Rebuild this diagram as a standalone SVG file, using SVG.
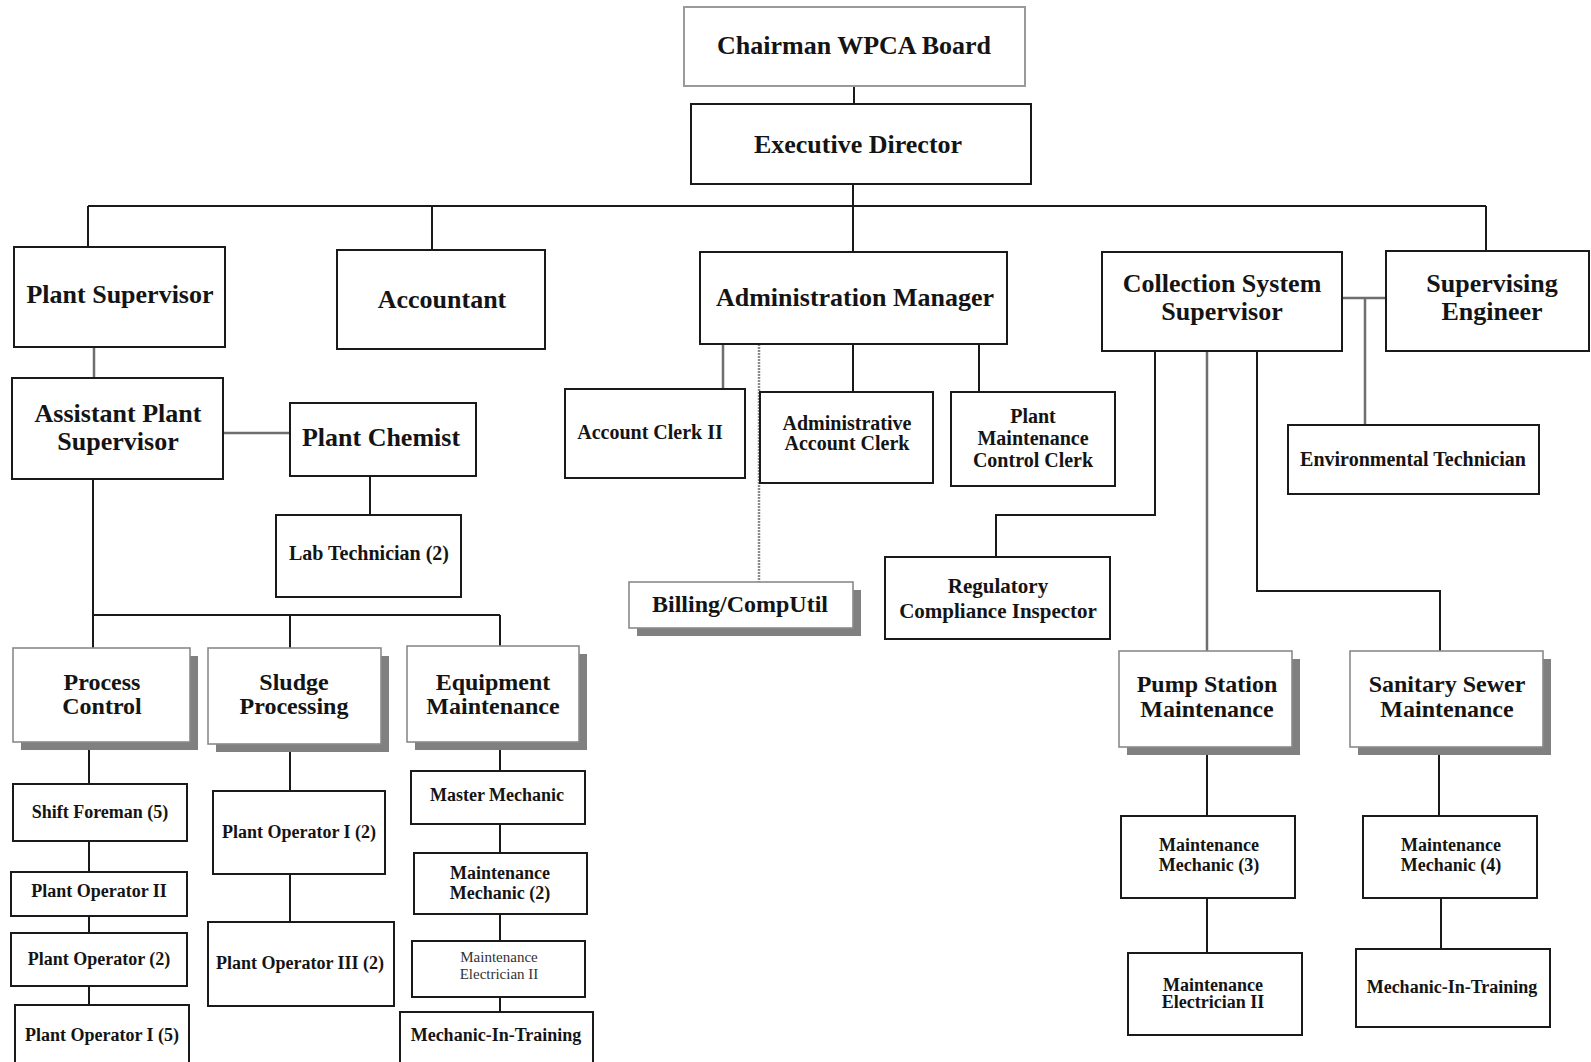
<svg xmlns="http://www.w3.org/2000/svg" width="1591" height="1062" viewBox="0 0 1591 1062">
<style>
.box{fill:#fff;stroke:#1a1a1a;stroke-width:2}
.sbox{fill:#fff;stroke:#8a8a8a;stroke-width:1.6}
.gbox{fill:#fff;stroke:#9a9a9a;stroke-width:2}
.sh{fill:#808080}
text{font-family:"Liberation Serif","Times New Roman",serif;font-weight:bold;fill:#141414;text-anchor:middle}
.t26{font-size:26px}
.t24{font-size:24px}
.t21{font-size:21px}
.t20{font-size:20px}
.t18{font-size:18px}
.t15{font-size:15px;font-weight:normal;fill:#333}
.ln{fill:none;stroke:#1a1a1a;stroke-width:2}
.lg{fill:none;stroke:#6e6e6e;stroke-width:2.5}
.ld{fill:none;stroke:#8a8a8a;stroke-width:2.5;stroke-dasharray:2 1}
</style>
<rect width="1591" height="1062" fill="#fff"/>
<g id="connectors">
<path class="ln" d="M854 86V104"/>
<path class="ln" d="M853 184V252"/>
<path class="ln" d="M88 206H1486"/>
<path class="ln" d="M88 206V247"/>
<path class="ln" d="M432 206V250"/>
<path class="ln" d="M1486 206V251"/>
<path class="lg" d="M94 347V378"/>
<path class="lg" d="M223 433H290" stroke-width="4"/>
<path class="ln" d="M370 476V515"/>
<path class="ln" d="M93 479V648"/>
<path class="ln" d="M93 615H500"/>
<path class="ln" d="M290 615V648"/>
<path class="ln" d="M500 615V646"/>
<path class="ln" d="M89 742V784M89 841V872M89 916V933M89 986V1005"/>
<path class="ln" d="M290 744V791M290 874V922"/>
<path class="ln" d="M500 742V771M500 824V853M500 914V941M500 997V1012"/>
<path class="lg" d="M723 344V389"/>
<path class="ln" d="M853 344V392"/>
<path class="ln" d="M979 344V392"/>
<path class="ld" d="M759 344V582"/>
<path class="lg" d="M1342 298H1386"/>
<path class="lg" d="M1365 298V425"/>
<path class="ln" d="M1155 351V515H996V557"/>
<path class="lg" d="M1207 351V651"/>
<path class="ln" d="M1257 351V591H1440V651"/>
<path class="ln" d="M1207 747V816M1207 898V953"/>
<path class="ln" d="M1439 747V816M1441 898V949"/>
</g>
<g id="chairman"><rect class="gbox" x="684" y="7" width="341" height="79"/><text class="t26" x="854" y="54">Chairman WPCA Board</text></g>
<g id="exec"><rect class="box" x="691" y="104" width="340" height="80"/><text class="t26" x="858" y="153">Executive Director</text></g>
<g id="plant-supervisor"><rect class="box" x="14" y="247" width="211" height="100"/><text class="t26" x="120" y="303">Plant Supervisor</text></g>
<g id="accountant"><rect class="box" x="337" y="250" width="208" height="99"/><text class="t26" x="442" y="308">Accountant</text></g>
<g id="admin-manager"><rect class="box" x="700" y="252" width="307" height="92"/><text class="t26" x="855" y="306">Administration Manager</text></g>
<g id="css"><rect class="box" x="1102" y="252" width="240" height="99"/><text class="t26" x="1222" y="292">Collection System</text><text class="t26" x="1222" y="320">Supervisor</text></g>
<g id="se"><rect class="box" x="1386" y="251" width="203" height="100"/><text class="t26" x="1492" y="292">Supervising</text><text class="t26" x="1492" y="320">Engineer</text></g>
<g id="aps"><rect class="box" x="12" y="378" width="211" height="101"/><text class="t26" x="118" y="422">Assistant Plant</text><text class="t26" x="118" y="450">Supervisor</text></g>
<g id="plant-chemist"><rect class="box" x="290" y="403" width="186" height="73"/><text class="t26" x="381" y="446">Plant Chemist</text></g>
<g id="lab-tech"><rect class="box" x="276" y="515" width="185" height="82"/><text class="t20" x="369" y="560">Lab Technician (2)</text></g>
<g id="account-clerk"><rect class="box" x="565" y="389" width="180" height="89"/><text class="t20" x="650" y="439">Account Clerk II</text></g>
<g id="admin-account-clerk"><rect class="box" x="760" y="392" width="173" height="91"/><text class="t20" x="847" y="430">Administrative</text><text class="t20" x="847" y="450">Account Clerk</text></g>
<g id="pmcc"><rect class="box" x="951" y="392" width="164" height="94"/><text class="t20" x="1033" y="423">Plant</text><text class="t20" x="1033" y="445">Maintenance</text><text class="t20" x="1033" y="467">Control Clerk</text></g>
<g id="billing"><rect class="sh" x="637" y="590" width="224" height="46"/><rect class="sbox" x="629" y="582" width="224" height="46"/><text class="t24" x="740" y="612">Billing/CompUtil</text></g>
<g id="rci"><rect class="box" x="885" y="557" width="225" height="82"/><text class="t21" x="998" y="593">Regulatory</text><text class="t21" x="998" y="618">Compliance Inspector</text></g>
<g id="env-tech"><rect class="box" x="1288" y="425" width="251" height="69"/><text class="t20" x="1413" y="466">Environmental Technician</text></g>
<g id="process-control"><rect class="sh" x="21" y="656" width="177" height="94"/><rect class="sbox" x="13" y="648" width="177" height="94"/><text class="t24" x="102" y="690">Process</text><text class="t24" x="102" y="714">Control</text></g>
<g id="sludge"><rect class="sh" x="216" y="656" width="173" height="96"/><rect class="sbox" x="208" y="648" width="173" height="96"/><text class="t24" x="294" y="690">Sludge</text><text class="t24" x="294" y="714">Processing</text></g>
<g id="equipment"><rect class="sh" x="415" y="654" width="172" height="96"/><rect class="sbox" x="407" y="646" width="172" height="96"/><text class="t24" x="493" y="690">Equipment</text><text class="t24" x="493" y="714">Maintenance</text></g>
<g id="shift-foreman"><rect class="box" x="13" y="784" width="174" height="57"/><text class="t18" x="100" y="818">Shift Foreman (5)</text></g>
<g id="po2"><rect class="box" x="11" y="872" width="176" height="44"/><text class="t18" x="99" y="897">Plant Operator II</text></g>
<g id="po-2"><rect class="box" x="11" y="933" width="176" height="53"/><text class="t18" x="99" y="965">Plant Operator (2)</text></g>
<g id="po1-5"><rect class="box" x="15" y="1005" width="174" height="65"/><text class="t18" x="102" y="1041">Plant Operator I (5)</text></g>
<g id="po1-2"><rect class="box" x="213" y="791" width="172" height="83"/><text class="t18" x="299" y="838">Plant Operator I (2)</text></g>
<g id="po3-2"><rect class="box" x="208" y="922" width="186" height="84"/><text class="t18" x="300" y="969">Plant Operator III (2)</text></g>
<g id="master-mechanic"><rect class="box" x="411" y="771" width="174" height="53"/><text class="t18" x="497" y="801">Master Mechanic</text></g>
<g id="mm2"><rect class="box" x="414" y="853" width="173" height="61"/><text class="t18" x="500" y="879">Maintenance</text><text class="t18" x="500" y="899">Mechanic (2)</text></g>
<g id="me2-equip"><rect class="box" x="412" y="941" width="173" height="56"/><text class="t15" x="499" y="962">Maintenance</text><text class="t15" x="499" y="979">Electrician II</text></g>
<g id="mit-equip"><rect class="box" x="400" y="1012" width="193" height="60"/><text class="t18" x="496" y="1041">Mechanic-In-Training</text></g>
<g id="pump"><rect class="sh" x="1127" y="659" width="173" height="96"/><rect class="sbox" x="1119" y="651" width="173" height="96"/><text class="t24" x="1207" y="692">Pump Station</text><text class="t24" x="1207" y="717">Maintenance</text></g>
<g id="sanitary"><rect class="sh" x="1358" y="659" width="193" height="96"/><rect class="sbox" x="1350" y="651" width="193" height="96"/><text class="t24" x="1447" y="692">Sanitary Sewer</text><text class="t24" x="1447" y="717">Maintenance</text></g>
<g id="mm3"><rect class="box" x="1121" y="816" width="174" height="82"/><text class="t18" x="1209" y="851">Maintenance</text><text class="t18" x="1209" y="871">Mechanic (3)</text></g>
<g id="me2-pump"><rect class="box" x="1128" y="953" width="174" height="82"/><text class="t18" x="1213" y="991">Maintenance</text><text class="t18" x="1213" y="1008">Electrician II</text></g>
<g id="mm4"><rect class="box" x="1363" y="816" width="174" height="82"/><text class="t18" x="1451" y="851">Maintenance</text><text class="t18" x="1451" y="871">Mechanic (4)</text></g>
<g id="mit-sanitary"><rect class="box" x="1356" y="949" width="194" height="78"/><text class="t18" x="1452" y="993">Mechanic-In-Training</text></g>
</svg>
